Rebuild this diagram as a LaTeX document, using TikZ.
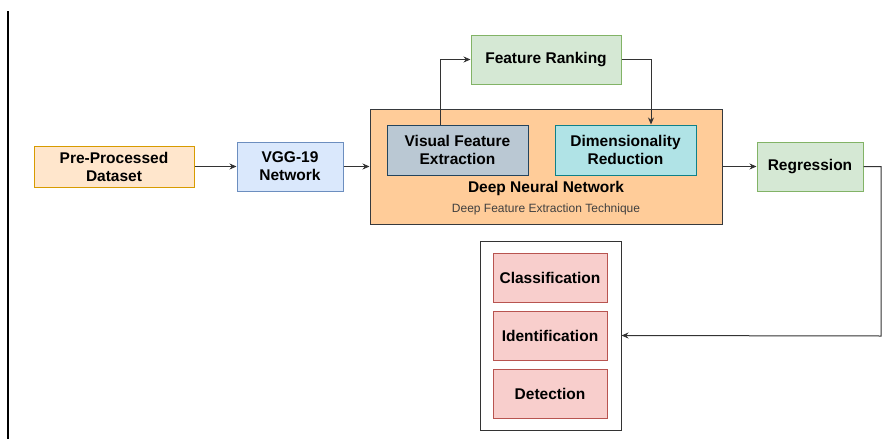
\documentclass[tikz,border=0pt]{standalone}
\usepackage{fontspec}
\setmainfont{Liberation Sans}
\usetikzlibrary{arrows.meta}
\definecolor{dsfill}{HTML}{FFE6CC}\definecolor{dsdraw}{HTML}{D79B00}
\definecolor{bfill}{HTML}{DAE8FC}\definecolor{bdraw}{HTML}{6C8EBF}
\definecolor{ofill}{HTML}{FFCC99}\definecolor{odraw}{HTML}{36393D}
\definecolor{gfill}{HTML}{BAC8D3}\definecolor{gdraw}{HTML}{23445D}
\definecolor{tfill}{HTML}{B0E3E6}\definecolor{tdraw}{HTML}{0E8088}
\definecolor{grfill}{HTML}{D5E8D4}\definecolor{grdraw}{HTML}{82B366}
\definecolor{rfill}{HTML}{F8CECC}\definecolor{rdraw}{HTML}{B85450}
\definecolor{lnk}{HTML}{333333}
\begin{document}
\begin{tikzpicture}[x=1pt,y=-1pt,
  blk/.style={draw, line width=1pt, align=center, inner sep=0pt,
    font=\fontsize{15.5}{18}\selectfont\bfseries},
  conn/.style={draw=lnk, line width=1pt, -{Stealth[length=7pt,width=6pt]}}]
\useasboundingbox (0,0) rectangle (894,439);
\draw[line width=1.2pt] (8,11) -- (8,439);

\node[blk, fill=dsfill, draw=dsdraw, minimum width=160pt, minimum height=41pt] (ds) at (114,166.5) {Pre-Processed\\Dataset};
\node[blk, fill=bfill, draw=bdraw, minimum width=106pt, minimum height=49pt] (vgg) at (290,166.5) {VGG-19\\Network};
\node[blk, fill=ofill, draw=odraw, minimum width=352pt, minimum height=115pt] (dnn) at (546,166.5) {};
\node[blk, fill=gfill, draw=gdraw, minimum width=141pt, minimum height=50pt] (vfe) at (457.5,150) {Visual Feature\\Extraction};
\node[blk, fill=tfill, draw=tdraw, minimum width=141pt, minimum height=50pt] (dr) at (625.5,150) {Dimensionality\\Reduction};
\node[font=\fontsize{15.5}{18}\selectfont\bfseries, inner sep=0pt] (dnnt) at (546,188) {Deep Neural Network};
\node[font=\fontsize{12}{14}\selectfont, text=black!75, inner sep=0pt] (dnns) at (546,209) {Deep Feature Extraction Technique};
\node[blk, fill=grfill, draw=grdraw, minimum width=150pt, minimum height=49pt] (fr) at (546,59.5) {Feature Ranking};
\node[blk, fill=grfill, draw=grdraw, minimum width=106pt, minimum height=49pt] (reg) at (810,166.5) {Regression};
\node[draw=lnk, line width=1pt, fill=white, minimum width=141pt, minimum height=189pt, inner sep=0pt] (out) at (550.5,335.5) {};
\node[blk, fill=rfill, draw=rdraw, minimum width=114pt, minimum height=49pt] (cls) at (550,277.5) {Classification};
\node[blk, fill=rfill, draw=rdraw, minimum width=114pt, minimum height=49pt] (idf) at (550,335.5) {Identification};
\node[blk, fill=rfill, draw=rdraw, minimum width=114pt, minimum height=49pt] (det) at (550,393.5) {Detection};

\coordinate (c1) at (881,166.5);
\coordinate (c2) at (881,336);
\draw[conn] (ds.east) -- (vgg.west);
\draw[conn] (vgg.east) -- (dnn.west);
\draw[conn] (vfe.north -| 440,0) |- (fr.west);
\draw[conn] (fr.east) -| (dr.north -| 651,0);
\draw[conn] (dnn.east) -- (reg.west);
\draw[conn] (reg.east) -- (c1) -- (c2) -- (out.east);
\end{tikzpicture}
\end{document}
